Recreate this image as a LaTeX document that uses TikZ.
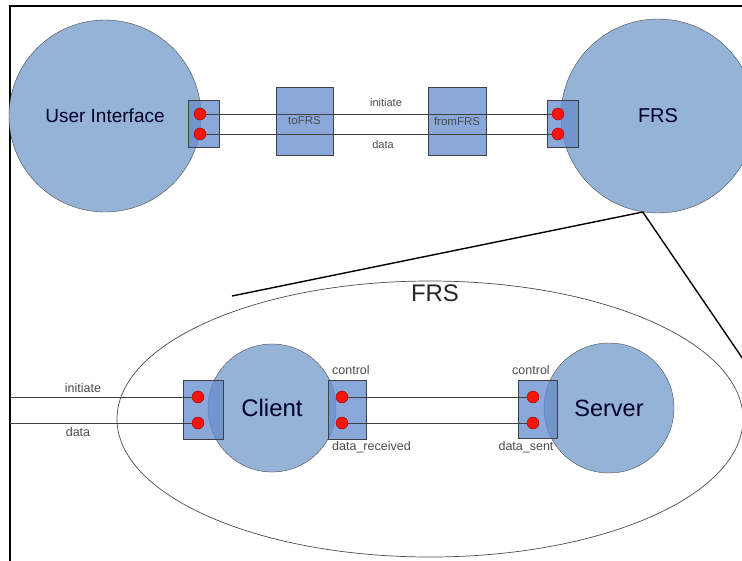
\documentclass[tikz,border=0pt]{standalone}
\usepackage{fontspec}
\setmainfont{Liberation Sans}
\usetikzlibrary{shapes.geometric}

\definecolor{procblue}{RGB}{149,179,215}
\definecolor{portblue}{RGB}{100,140,205}
\definecolor{pinred}{RGB}{250,20,10}

\tikzset{proc/.style={circle,draw=black!70,fill=procblue,inner sep=0pt,font=\fontsize{19}{21}\selectfont,text=black!85!blue}}
\tikzset{portbox/.style={draw=black!75,fill=portblue,fill opacity=0.75,text opacity=1,inner sep=0pt}}
\tikzset{pin/.style={circle,draw=red!60!black,fill=pinred,minimum size=12pt,inner sep=0pt}}
\tikzset{wire/.style={draw=black!75,line width=0.6pt}}
\tikzset{lbl/.style={font=\fontsize{11}{13}\selectfont,text=black!70,inner sep=1pt}}
\tikzset{sublbl/.style={font=\fontsize{12.5}{14}\selectfont,text=black!70,inner sep=1pt}}

\begin{document}
\begin{tikzpicture}[x=1pt,y=-1pt]
	\clip (0,0) rectangle (742,560);
	\fill[white] (0,0) rectangle (742,560);
	% frame
	\draw[line width=1.2pt] (10,565) -- (10,6) -- (750,6);

	% top level
	\node[proc,minimum size=192pt] (ui) at (105,116) {User Interface};
	\node[proc,minimum size=194pt,font=\fontsize{20}{22}\selectfont] (frs) at (658,116) {FRS};
	\node[portbox,minimum width=31pt,minimum height=47pt] (uiport) at (203.5,123.5) {};
	\node[portbox,minimum width=31pt,minimum height=47pt] (frsport) at (562.5,123.5) {};
	\node[portbox,minimum width=57pt,minimum height=68pt,lbl,font=\fontsize{11.5}{13}\selectfont] (tofrs) at (304.5,121) {toFRS};
	\node[portbox,minimum width=58pt,minimum height=68pt,lbl,font=\fontsize{11.5}{13}\selectfont] (fromfrs) at (457,121) {fromFRS};
	\node[pin] (uia) at (200,114) {};
	\node[pin] (uib) at (200,134) {};
	\node[pin] (frsa) at (558,114) {};
	\node[pin] (frsb) at (558,134) {};
	\draw[wire] (uia) -- (frsa);
	\draw[wire] (uib) -- (frsb);
	\node[lbl] (lini) at (386,103) {initiate};
	\node[lbl] (ldata) at (383,145) {data};

	% zoom into FRS
	\node[ellipse,draw=black!70,line width=0.7pt,fill=white,minimum width=626pt,minimum height=276pt] (frsbig) at (430,419) {};
	\coordinate (zl) at (232,296);
	\coordinate (zr) at (745,362);
	\draw[line width=1.4pt] (zl) -- (frs.-99) -- (zr);
	\node[font=\fontsize{24}{26}\selectfont,text=black!85] (frstitle) at (435,293) {FRS};

	\node[proc,minimum size=128pt,font=\fontsize{24}{26}\selectfont] (client) at (272,408) {Client};
	\node[proc,minimum size=130pt,font=\fontsize{23.5}{26}\selectfont] (server) at (609,408) {Server};
	\node[portbox,minimum width=40pt,minimum height=59pt] (cin) at (203,409.5) {};
	\node[portbox,minimum width=38pt,minimum height=59pt] (cout) at (347,409.5) {};
	\node[portbox,minimum width=39pt,minimum height=58pt] (sport) at (537.5,409) {};
	\node[pin] (cia) at (198,397) {};
	\node[pin] (cib) at (198,423) {};
	\node[pin] (coa) at (342,397) {};
	\node[pin] (cob) at (342,423) {};
	\node[pin] (sa) at (533,397) {};
	\node[pin] (sb) at (533,423) {};
	\coordinate (ina) at (10,397);
	\coordinate (inb) at (10,423);
	\draw[wire] (ina) -- (cia);
	\draw[wire] (inb) -- (cib);
	\draw[wire] (coa) -- (sa);
	\draw[wire] (cob) -- (sb);

	\node[sublbl] (cini) at (83,388) {initiate};
	\node[sublbl] (cdata) at (78,432) {data};
	\node[sublbl,anchor=west] (cctl) at (331,370) {control};
	\node[sublbl,anchor=west] (crecv) at (331,447) {data\_received};
	\node[sublbl] (sctl) at (531,370) {control};
	\node[sublbl] (ssent) at (526,447) {data\_sent};
\end{tikzpicture}
\end{document}
